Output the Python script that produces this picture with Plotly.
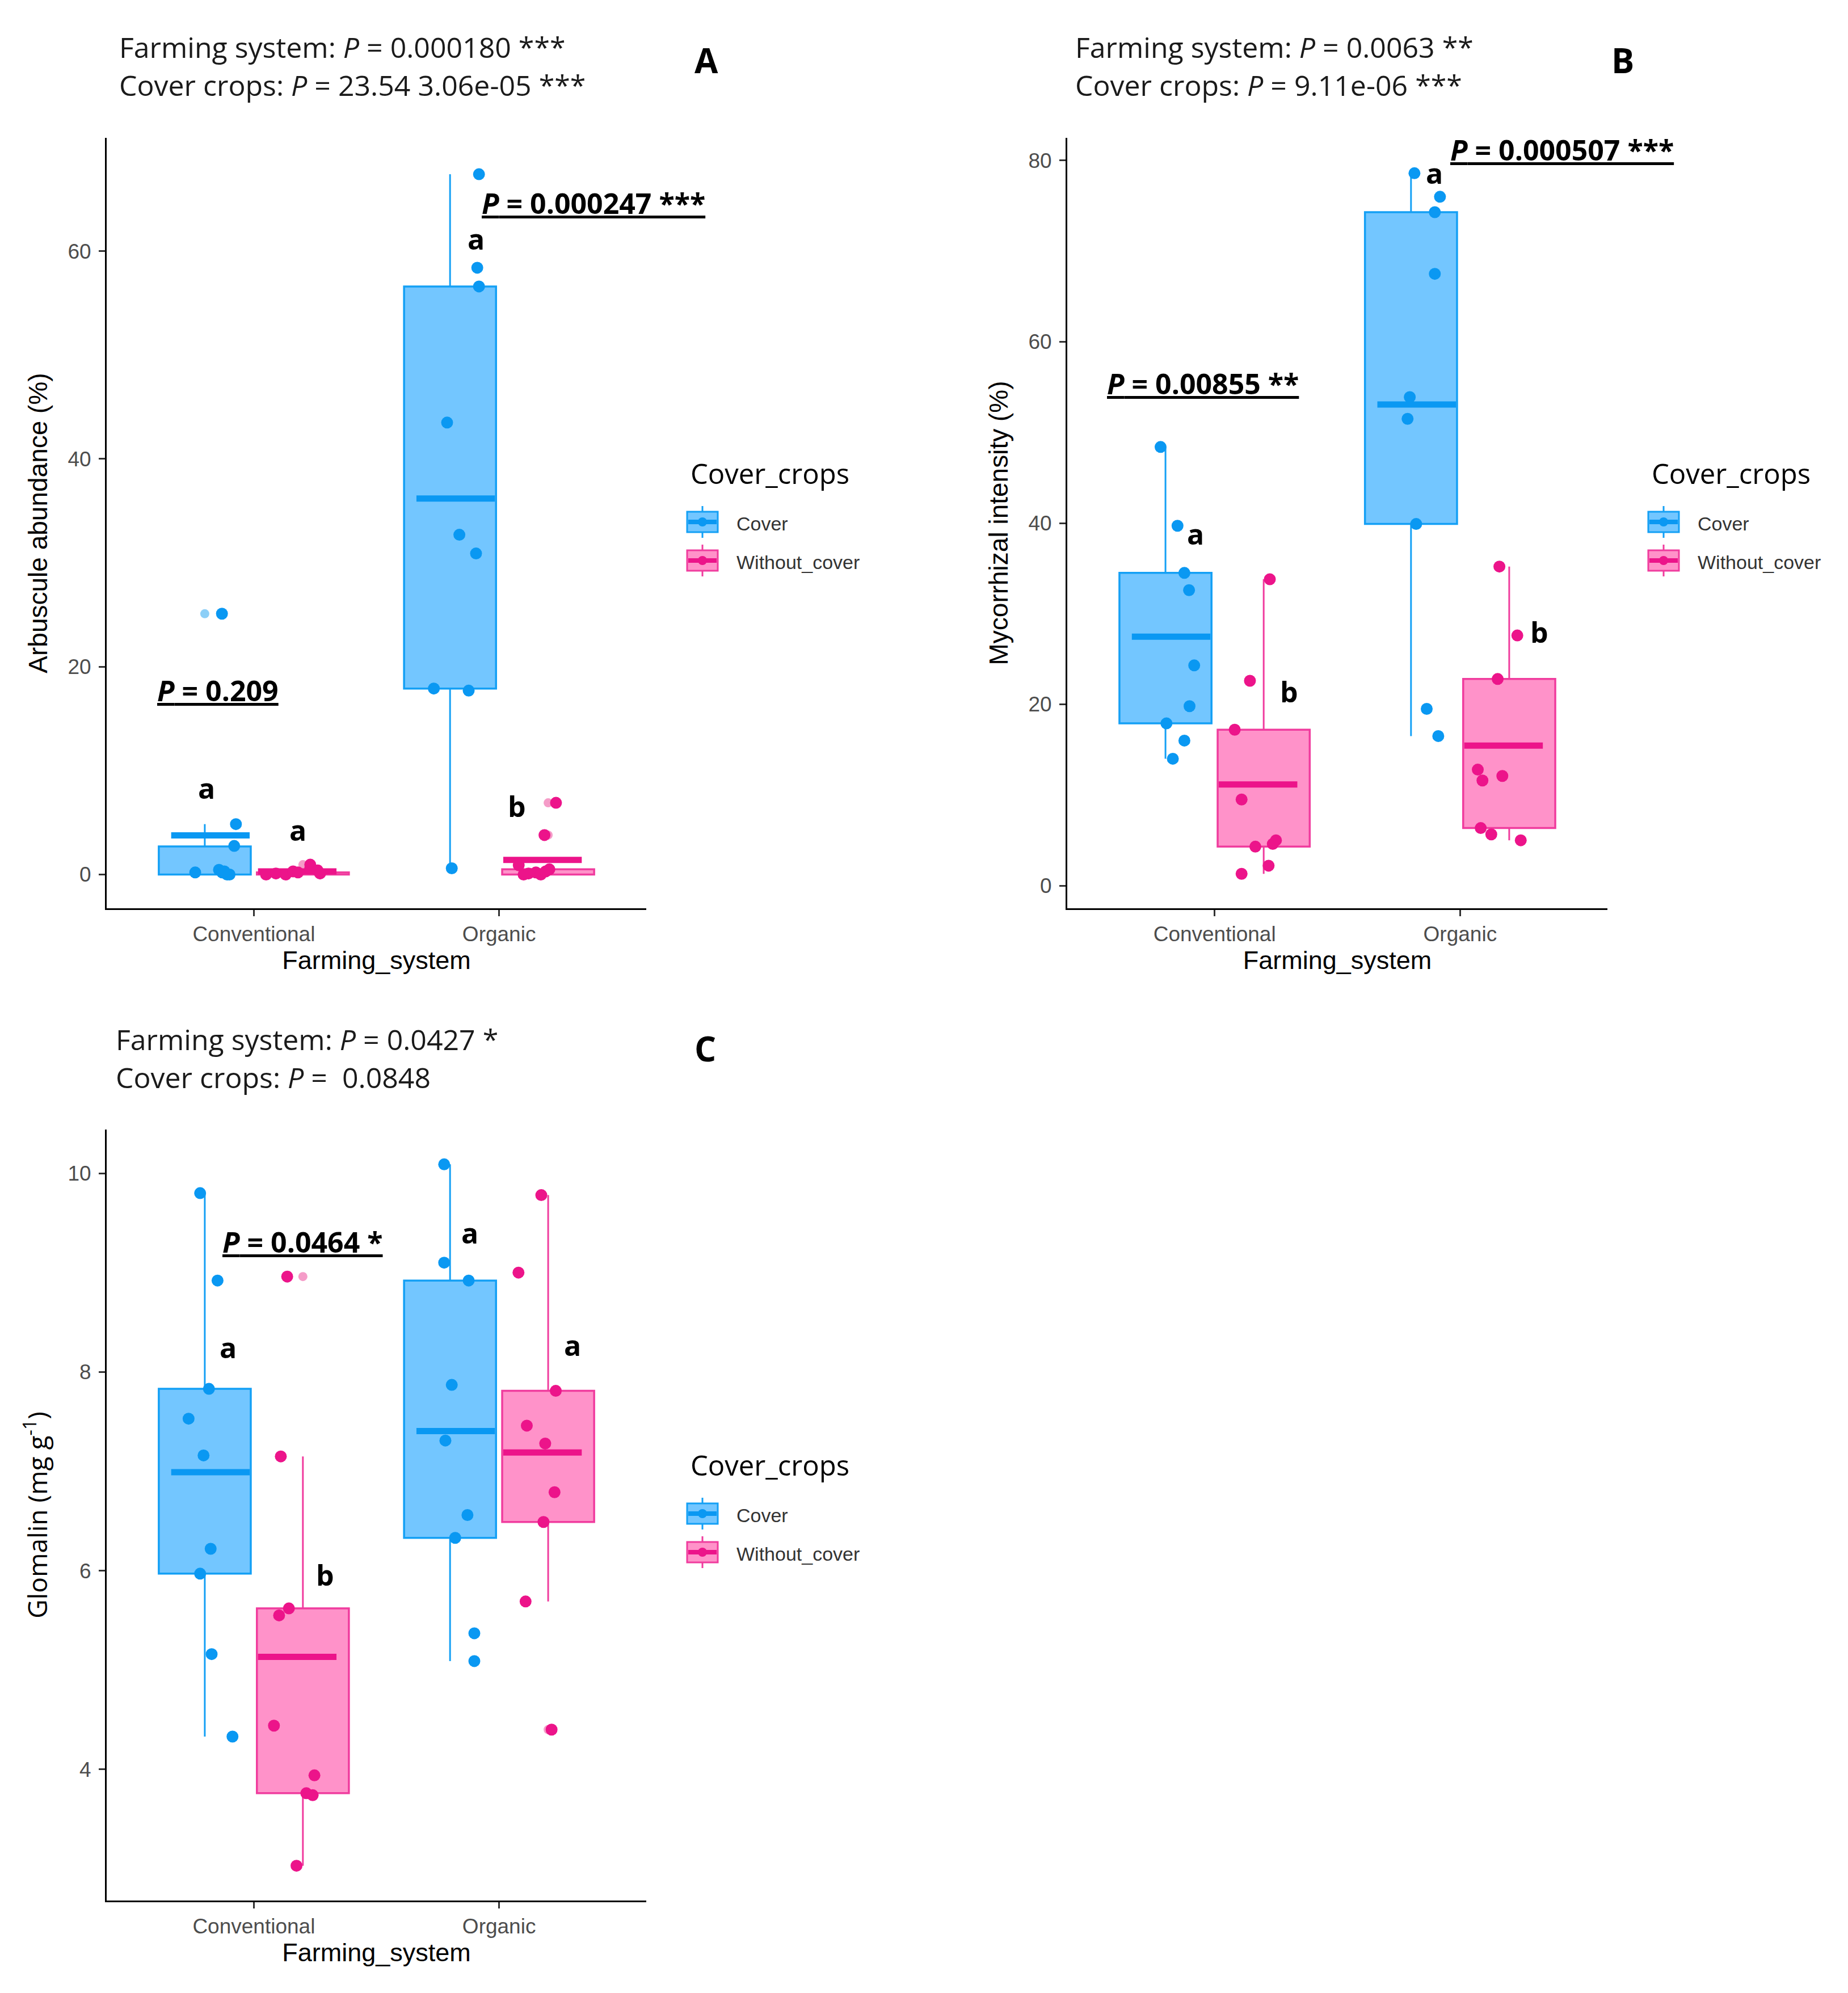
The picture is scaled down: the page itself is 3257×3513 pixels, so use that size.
import plotly.graph_objects as go
import numpy as np

W, H = 3257, 3513

systems = ["Conventional", "Organic"]

# ---- Panel A: arbuscule abundance (%) ----
# values per farming system [Conventional, Organic], jitter = horizontal offset of each point
arb_cover = [[0.2, 0.45, 0.0, 0.0, 0.2, 2.75, 4.85, 25.1, 0.3],
             [67.4, 58.4, 56.6, 43.5, 32.7, 30.9, 17.9, 17.7, 0.6]]
arb_cover_jit = [[-0.039, 0.058, 0.091, 0.101, 0.071, 0.12, 0.127, 0.07, 0.08],
                 [0.118, 0.111, 0.118, -0.012, 0.038, 0.106, -0.066, 0.076, 0.007]]
arb_cover_q1 = [0.0, 17.9]
arb_cover_q3 = [2.7, 56.6]
arb_cover_lo = [0.0, 0.6]
arb_cover_hi = [4.85, 67.4]

arb_wo = [[0.0, 0.1, 0.0, 0.3, 0.2, 0.6, 0.95, 0.4, 0.1],
          [6.9, 3.8, 0.9, 0.0, 0.1, 0.2, 0.0, 0.3, 0.5]]
arb_wo_jit = [[-0.15, -0.11, -0.07, -0.04, -0.02, 0.03, 0.03, 0.06, 0.07],
              [0.032, -0.015, -0.12, -0.10, -0.08, -0.05, -0.03, -0.01, 0.005]]
arb_wo_q1 = [0.0, 0.0]
arb_wo_q3 = [0.2, 0.5]
arb_wo_lo = [0.0, 0.0]
arb_wo_hi = [0.6, 0.9]

# ---- Panel B: mycorrhizal intensity (%) ----
myc_cover = [[48.4, 39.7, 34.5, 32.6, 24.3, 19.8, 17.9, 16.0, 14.0],
             [78.6, 76.0, 74.3, 67.5, 53.9, 51.5, 39.9, 19.5, 16.5]]
myc_cover_jit = [[-0.02, 0.049, 0.077, 0.096, 0.117, 0.098, 0.004, 0.077, 0.03],
                 [0.014, 0.118, 0.097, 0.097, -0.005, -0.014, 0.021, 0.064, 0.111]]
myc_cover_q1 = [17.9, 39.9]
myc_cover_q3 = [34.5, 74.3]
myc_cover_lo = [14.0, 16.5]
myc_cover_hi = [48.4, 78.6]

myc_wo = [[33.8, 22.6, 17.2, 9.5, 4.3, 5.0, 4.6, 2.2, 1.3],
          [35.2, 27.6, 22.8, 12.8, 11.6, 12.1, 6.35, 5.65, 5.0]]
myc_wo_jit = [[0.025, -0.056, -0.118, -0.09, -0.034, 0.05, 0.037, 0.02, -0.09],
              [-0.04, 0.033, -0.047, -0.128, -0.109, -0.028, -0.116, -0.073, 0.047]]
myc_wo_q1 = [4.3, 6.35]
myc_wo_q3 = [17.2, 22.8]
myc_wo_lo = [1.3, 5.0]
myc_wo_hi = [33.8, 35.2]

# ---- Panel C: glomalin (mg g-1) ----
glo_cover = [[9.8, 8.92, 7.83, 7.53, 7.16, 6.22, 5.97, 5.16, 4.33],
             [10.09, 9.1, 8.92, 7.87, 7.31, 6.56, 6.33, 5.37, 5.09]]
glo_cover_jit = [[-0.019, 0.052, 0.017, -0.066, -0.005, 0.024, -0.019, 0.028, 0.113],
                 [-0.024, -0.024, 0.076, 0.007, -0.019, 0.071, 0.021, 0.099, 0.099]]
glo_cover_q1 = [5.97, 6.33]
glo_cover_q3 = [7.83, 8.92]
glo_cover_lo = [4.33, 5.09]
glo_cover_hi = [9.8, 10.09]

glo_wo = [[8.96, 7.15, 5.62, 5.55, 4.44, 3.94, 3.76, 3.74, 3.03],
          [9.78, 9.0, 7.81, 7.46, 7.28, 6.79, 6.49, 5.69, 4.40]]
glo_wo_jit = [[-0.064, -0.09, -0.057, -0.097, -0.118, 0.047, 0.014, 0.04, -0.026],
              [-0.028, -0.121, 0.031, -0.087, -0.012, 0.026, -0.019, -0.092, 0.014]]
glo_wo_q1 = [3.76, 6.49]
glo_wo_q3 = [5.62, 7.81]
glo_wo_lo = [3.03, 5.69]
glo_wo_hi = [7.15, 9.78]

# colours
BLUE, BLUE_FILL, BLUE_EDGE, BLUE_LIGHT = "#0A98F2", "#73C6FF", "#14A0F5", "#8CCFF7"
PINK, PINK_FILL, PINK_EDGE, PINK_LIGHT = "#EC148A", "#FF92C9", "#F03C9E", "#F59CC8"

BOX_SHIFT = 0.2
BOX_W = 0.375
MEAN_SHIFT = 0.177
MEAN_HW = 0.16

TXT = "Open Sans"
ARIAL = "Liberation Sans"

fig = go.Figure()


def px(x):
    return x / W


def py(y):
    return 1 - y / H


def add_group(xr, yr, vals, jit, q1, q3, lo, hi, sign, col, fill, edge, light):
    xs = [i + 1 + sign * BOX_SHIFT for i in range(len(systems))]
    common = dict(xaxis=xr, yaxis=yr, showlegend=False, hoverinfo="skip")
    fig.add_trace(go.Bar(x=xs, y=[b - a for a, b in zip(q1, q3)], base=q1, width=BOX_W,
                         marker=dict(color=fill, line=dict(color=edge, width=3.5)), **common))
    wx, wy = [], []
    for c, a, b, l, h in zip(xs, q1, q3, lo, hi):
        wx += [c, c, None, c, c, None]
        wy += [b, h, None, l, a, None]
    fig.add_trace(go.Scatter(x=wx, y=wy, mode="lines", line=dict(color=edge, width=3), **common))
    # outliers drawn at the box centre
    ox, oy = [], []
    for c, v, l, h in zip(xs, vals, lo, hi):
        for p in v:
            if p > h + 1e-9 or p < l - 1e-9:
                ox.append(c)
                oy.append(p)
    fig.add_trace(go.Scatter(x=ox, y=oy, mode="markers",
                             marker=dict(color=light, size=16, line=dict(width=0)), **common))
    # mean bars
    mx, my = [], []
    for i, v in enumerate(vals):
        m = float(np.mean(v))
        c = i + 1 + sign * MEAN_SHIFT
        mx += [c - MEAN_HW, c + MEAN_HW, None]
        my += [m, m, None]
    fig.add_trace(go.Scatter(x=mx, y=my, mode="lines", line=dict(color=col, width=11), **common))
    # jittered points
    ptx, pty = [], []
    for c, v, j in zip(xs, vals, jit):
        for p, d in zip(v, j):
            ptx.append(c + d)
            pty.append(p)
    fig.add_trace(go.Scatter(x=ptx, y=pty, mode="markers",
                             marker=dict(color=col, size=21, line=dict(width=0)), **common))


panels = [
    ("x", "y", arb_cover, arb_cover_jit, arb_cover_q1, arb_cover_q3, arb_cover_lo, arb_cover_hi,
     arb_wo, arb_wo_jit, arb_wo_q1, arb_wo_q3, arb_wo_lo, arb_wo_hi),
    ("x2", "y2", myc_cover, myc_cover_jit, myc_cover_q1, myc_cover_q3, myc_cover_lo, myc_cover_hi,
     myc_wo, myc_wo_jit, myc_wo_q1, myc_wo_q3, myc_wo_lo, myc_wo_hi),
    ("x3", "y3", glo_cover, glo_cover_jit, glo_cover_q1, glo_cover_q3, glo_cover_lo, glo_cover_hi,
     glo_wo, glo_wo_jit, glo_wo_q1, glo_wo_q3, glo_wo_lo, glo_wo_hi),
]
for p in panels:
    xr, yr = p[0], p[1]
    add_group(xr, yr, *p[2:8], -1, BLUE, BLUE_FILL, BLUE_EDGE, BLUE_LIGHT)
    add_group(xr, yr, *p[8:14], 1, PINK, PINK_FILL, PINK_EDGE, PINK_LIGHT)

# ---- axes ----
axis_common = dict(showline=True, linecolor="black", linewidth=3, ticks="outside", ticklen=11,
                   tickwidth=3, tickcolor="#333333", showgrid=False, zeroline=False,
                   tickfont=dict(family=ARIAL, size=37, color="#4D4D4D"))
xdom_left = [px(180), px(1131)]
xdom_right = [px(1873), px(2825)]
ydom_top = [py(1593), py(235)]
ydom_bot = [py(3342), py(1983)]

xa = dict(range=[0.4, 2.6], tickvals=[1, 2], ticktext=systems,
          title=dict(text="Farming_system", font=dict(family=ARIAL, size=45, color="black"), standoff=6),
          **axis_common)


def ya(rng, tv, title, fam=ARIAL):
    return dict(range=rng, tickvals=tv, ticklabelstandoff=6,
                title=dict(text=title, font=dict(family=fam, size=46, color="black"), standoff=22),
                **axis_common)


fig.update_layout(
    xaxis=dict(domain=xdom_left, anchor="y", **xa),
    yaxis=dict(domain=ydom_top, anchor="x", **ya([-3.25, 70.9], [0, 20, 40, 60], "Arbuscule abundance (%)")),
    xaxis2=dict(domain=xdom_right, anchor="y2", **xa),
    yaxis2=dict(domain=ydom_top, anchor="x2", **ya([-2.5, 82.5], [0, 20, 40, 60, 80], "Mycorrhizal intensity (%)")),
    xaxis3=dict(domain=xdom_left, anchor="y3", **xa),
    yaxis3=dict(domain=ydom_bot, anchor="x3", **ya([2.68, 10.44], [4, 6, 8, 10], "Glomalin (mg g<sup>-1</sup>)", TXT)),
)

ann = []

# headers and panel letters (pixel positions on the page)
headers = [
    (200, 75, "Farming system: <i>P</i> = 0.000180 ***"),
    (200, 142, "Cover crops: <i>P</i> = 23.54 3.06e-05 ***"),
    (1885, 75, "Farming system: <i>P</i> = 0.0063 **"),
    (1885, 142, "Cover crops: <i>P</i> = 9.11e-06 ***"),
    (194, 1824, "Farming system: <i>P</i> = 0.0427 *"),
    (194, 1891, "Cover crops: <i>P</i> =  0.0848"),
]
for x, y, t in headers:
    ann.append(dict(x=px(x), y=py(y), xref="paper", yref="paper", text=t, showarrow=False,
                    xanchor="left", yanchor="middle", font=dict(family=TXT, size=50, color="#1A1A1A")))
for x, y, t in [(1237, 98, "A"), (2852, 98, "B"), (1235, 1840, "C")]:
    ann.append(dict(x=px(x), y=py(y), xref="paper", yref="paper", text="<b>%s</b>" % t, showarrow=False,
                    xanchor="center", yanchor="middle", font=dict(family=TXT, size=60, color="black")))

# pairwise P values and letters (data positions)
ptexts = [
    ("x", "y", 2.385, 64.6, "P", " = 0.000247 ***"),
    ("x", "y", 0.853, 17.7, "P", " = 0.209"),
    ("x2", "y2", 0.953, 55.4, "P", " = 0.00855 **"),
    ("x2", "y2", 2.415, 81.2, "P", " = 0.000507 ***"),
    ("x3", "y3", 1.199, 9.31, "P", " = 0.0464 *"),
    ("x3", "y3", 2.13, 10.46, "P", " = 0.786"),
]
for xr, yr, x, y, a, b in ptexts:
    ann.append(dict(x=x, y=y, xref=xr, yref=yr, text="<b><u><i>%s</i>%s</u></b>" % (a, b),
                    showarrow=False, xanchor="center", yanchor="middle",
                    font=dict(family=TXT, size=50, color="black")))
letters = [
    ("x", "y", 0.806, 8.3, "a"), ("x", "y", 1.18, 4.3, "a"),
    ("x", "y", 1.905, 61.2, "a"), ("x", "y", 2.073, 6.6, "b"),
    ("x2", "y2", 0.922, 38.8, "a"), ("x2", "y2", 1.303, 21.4, "b"),
    ("x2", "y2", 1.896, 78.6, "a"), ("x2", "y2", 2.322, 28.0, "b"),
    ("x3", "y3", 0.894, 8.25, "a"), ("x3", "y3", 1.29, 5.96, "b"),
    ("x3", "y3", 1.88, 9.4, "a"), ("x3", "y3", 2.30, 8.27, "a"),
]
for xr, yr, x, y, t in letters:
    ann.append(dict(x=x, y=y, xref=xr, yref=yr, text="<b>%s</b>" % t, showarrow=False,
                    xanchor="center", yanchor="middle", font=dict(family=TXT, size=50, color="black")))

# legends (one per panel, ggplot-style keys)
shapes = []
legend_items = [("Cover", BLUE, BLUE_FILL, BLUE_EDGE, 0), ("Without_cover", PINK, PINK_FILL, PINK_EDGE, 68)]
for ox, oy in [(0, 0), (1694, 0), (0, 1748)]:
    ann.append(dict(x=px(1207 + ox), y=py(826 + oy), xref="paper", yref="paper", text="Cover_crops",
                    showarrow=False, xanchor="left", yanchor="middle",
                    font=dict(family=TXT, size=49, color="black")))
    for name, col, fill, edge, dy in legend_items:
        cy = 912 + oy + dy
        kx0, kx1 = 1203 + ox, 1257 + ox
        kc = (kx0 + kx1) / 2
        shapes.append(dict(type="line", xref="paper", yref="paper", x0=px(kc), x1=px(kc),
                           y0=py(cy - 28), y1=py(cy + 28), line=dict(color=edge, width=3)))
        shapes.append(dict(type="rect", xref="paper", yref="paper", x0=px(kx0), x1=px(kx1),
                           y0=py(cy - 18), y1=py(cy + 18), fillcolor=fill, line=dict(color=edge, width=3)))
        shapes.append(dict(type="line", xref="paper", yref="paper", x0=px(kx0 + 2), x1=px(kx1 - 2),
                           y0=py(cy), y1=py(cy), line=dict(color=col, width=8)))
        shapes.append(dict(type="circle", xref="paper", yref="paper", x0=px(kc - 8), x1=px(kc + 8),
                           y0=py(cy - 8), y1=py(cy + 8), fillcolor=col, line=dict(width=0)))
        ann.append(dict(x=px(1288 + ox), y=py(cy + 3), xref="paper", yref="paper", text=name,
                        showarrow=False, xanchor="left", yanchor="middle",
                        font=dict(family=ARIAL, size=34, color="#333333")))

fig.update_layout(
    width=W, height=H, margin=dict(l=0, r=0, t=0, b=0),
    paper_bgcolor="white", plot_bgcolor="white",
    barmode="overlay", showlegend=False,
    annotations=ann, shapes=shapes,
)

fig.write_html("out.html")
